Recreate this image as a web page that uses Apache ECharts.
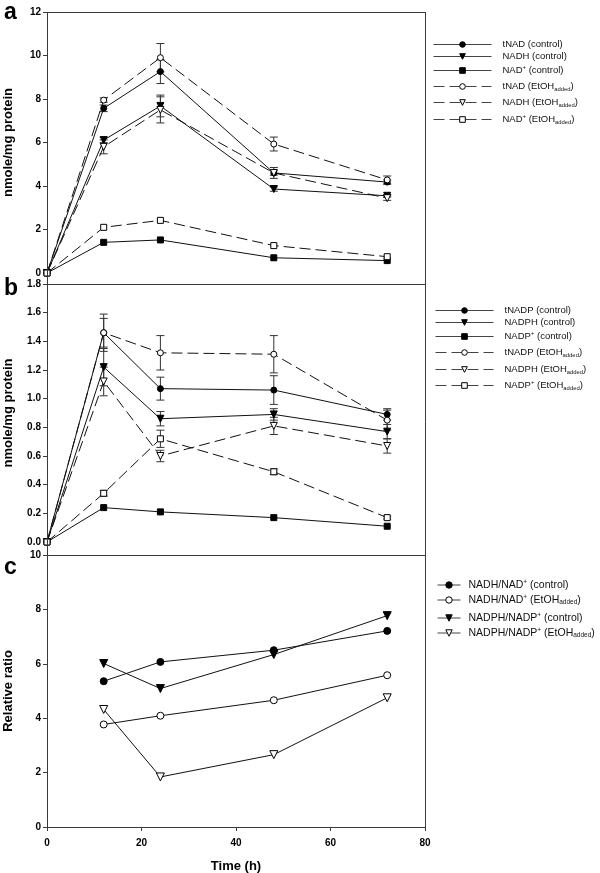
<!DOCTYPE html>
<html>
<head>
<meta charset="utf-8">
<script src="https://cdn.jsdelivr.net/npm/echarts@6/dist/echarts.min.js"></script>
<style>
html,body{margin:0;padding:0;background:#fff;}
#chart{width:600px;height:873px;}
</style>
</head>
<body>
<div id="chart"></div>
<script>
// ---------------- data ----------------
const times = [0, 12, 24, 48, 72];
const ratioTimes = [12, 24, 48, 72];
const xTicks = [0, 20, 40, 60, 80];

// panel a (nmole/mg protein)
const tNAD_ctrl   = [0, 7.57, 9.26, 4.60, 4.18];
const NADH_ctrl   = [0, 6.11, 7.68, 3.86, 3.55];
const NADp_ctrl   = [0, 1.41, 1.52, 0.70, 0.57];
const tNAD_etoh   = [0, 7.95, 9.90, 5.93, 4.28];
const NADH_etoh   = [0, 5.80, 7.50, 4.60, 3.44];
const NADp_etoh   = [0, 2.10, 2.42, 1.26, 0.75];
const tNAD_ctrl_err = [0, 0.15, 0.55, 0.10, 0.10];
const NADH_ctrl_err = [0, 0.12, 0.50, 0.10, 0.06];
const NADp_ctrl_err = [0, 0, 0, 0, 0];
const tNAD_etoh_err = [0, 0.10, 0.65, 0.32, 0.18];
const NADH_etoh_err = [0, 0.32, 0.60, 0.25, 0.10];
const NADp_etoh_err = [0, 0, 0, 0, 0];

// panel b (nmole/mg protein)
const tNADP_ctrl  = [0, 1.46, 1.07, 1.06, 0.89];
const NADPH_ctrl  = [0, 1.22, 0.86, 0.89, 0.77];
const NADPp_ctrl  = [0, 0.24, 0.21, 0.17, 0.11];
const tNADP_etoh  = [0, 1.46, 1.32, 1.31, 0.85];
const NADPH_etoh  = [0, 1.12, 0.60, 0.81, 0.67];
const NADPp_etoh  = [0, 0.34, 0.72, 0.49, 0.17];
const tNADP_ctrl_err = [0, 0.10, 0.08, 0.10, 0.04];
const NADPH_ctrl_err = [0, 0.13, 0.05, 0.04, 0.05];
const NADPp_ctrl_err = [0, 0, 0, 0, 0];
const tNADP_etoh_err = [0, 0.13, 0.12, 0.13, 0.07];
const NADPH_etoh_err = [0, 0.10, 0.04, 0.06, 0.05];
const NADPp_etoh_err = [0, 0.02, 0.06, 0.02, 0.01];

// panel c (relative ratio)
const NADH_NAD_ctrl   = [5.36, 6.07, 6.50, 7.21];
const NADH_NAD_etoh   = [3.77, 4.09, 4.66, 5.58];
const NADPH_NADP_ctrl = [6.01, 5.09, 6.34, 7.77];
const NADPH_NADP_etoh = [4.32, 1.84, 2.66, 4.75];

// names
const namesA = ['tNAD (control)', 'NADH (control)', 'NAD+ (control)', 'tNAD (EtOH added)', 'NADH (EtOH added)', 'NAD+ (EtOH added)'];
const namesB = ['tNADP (control)', 'NADPH (control)', 'NADP+ (control)', 'tNADP (EtOH added)', 'NADPH (EtOH added)', 'NADP+ (EtOH added)'];
const namesC = ['NADH/NAD+ (control)', 'NADH/NAD+ (EtOH added)', 'NADPH/NADP+ (control)', 'NADPH/NADP+ (EtOH added)'];

// ---------------- layout ----------------
const W = 600;
const L = 47, R = 425;
const panels = [
  {top: 12, bottom: 273},
  {top: 284, bottom: 542},
  {top: 555, bottom: 827}
];
const FONT = '"Liberation Sans", Arial, Helvetica, sans-serif';
const AX = '#3a3a3a';

function pairs(xs, ys) { return xs.map((x, i) => [x, ys[i]]); }
function errData(xs, ys, es) {
  const out = [];
  xs.forEach((x, i) => { if (es[i] > 0) out.push([x, ys[i] - es[i], ys[i] + es[i]]); });
  return out;
}
function fmtName(n) {
  return n.replace('+', '{sup|+}').replace('EtOH added', 'EtOH{sub|added}');
}

const DASH = [11, 5];
const styles = [
  {symbol: 'circle', rot: 0, fill: '#000', dash: 'solid', size: 6},
  {symbol: 'triangle', rot: 180, fill: '#000', dash: 'solid', size: 7},
  {symbol: 'rect', rot: 0, fill: '#000', dash: 'solid', size: 6},
  {symbol: 'circle', rot: 0, fill: '#fff', dash: DASH, size: 6},
  {symbol: 'triangle', rot: 180, fill: '#fff', dash: DASH, size: 7},
  {symbol: 'rect', rot: 0, fill: '#fff', dash: DASH, size: 6}
];
const stylesC = [
  {symbol: 'circle', rot: 0, fill: '#000', dash: 'solid', size: 7},
  {symbol: 'circle', rot: 0, fill: '#fff', dash: 'solid', size: 7},
  {symbol: 'triangle', rot: 180, fill: '#000', dash: 'solid', size: 8},
  {symbol: 'triangle', rot: 180, fill: '#fff', dash: 'solid', size: 8}
];

function lineSeries(name, data, st, gi) {
  return {
    type: 'line', name: name, data: data,
    xAxisIndex: gi, yAxisIndex: gi,
    symbol: st.symbol, symbolRotate: st.rot, symbolSize: st.size,
    showSymbol: true, clip: false, z: 3,
    lineStyle: {color: '#111', width: 1, type: st.dash},
    itemStyle: {color: st.fill, borderColor: '#000', borderWidth: 1},
    emphasis: {disabled: true},
    animation: false
  };
}
function renderErr(params, api) {
  const x = api.value(0), lo = api.value(1), hi = api.value(2);
  const p1 = api.coord([x, hi]), p2 = api.coord([x, lo]);
  const w = 4;
  const st = {stroke: '#333', lineWidth: 1};
  return {type: 'group', children: [
    {type: 'line', shape: {x1: p1[0], y1: p1[1], x2: p2[0], y2: p2[1]}, style: st},
    {type: 'line', shape: {x1: p1[0] - w, y1: p1[1], x2: p1[0] + w, y2: p1[1]}, style: st},
    {type: 'line', shape: {x1: p2[0] - w, y1: p2[1], x2: p2[0] + w, y2: p2[1]}, style: st}
  ]};
}
function errSeries(data, gi) {
  return {type: 'custom', data: data, xAxisIndex: gi, yAxisIndex: gi,
    encode: {x: 0, y: [1, 2]}, renderItem: renderErr, z: 2, silent: true, animation: false};
}

const series = [];
const valsA = [tNAD_ctrl, NADH_ctrl, NADp_ctrl, tNAD_etoh, NADH_etoh, NADp_etoh];
const errsA = [tNAD_ctrl_err, NADH_ctrl_err, NADp_ctrl_err, tNAD_etoh_err, NADH_etoh_err, NADp_etoh_err];
const valsB = [tNADP_ctrl, NADPH_ctrl, NADPp_ctrl, tNADP_etoh, NADPH_etoh, NADPp_etoh];
const errsB = [tNADP_ctrl_err, NADPH_ctrl_err, NADPp_ctrl_err, tNADP_etoh_err, NADPH_etoh_err, NADPp_etoh_err];
const valsC = [NADH_NAD_ctrl, NADH_NAD_etoh, NADPH_NADP_ctrl, NADPH_NADP_etoh];

valsA.forEach((v, i) => series.push(errSeries(errData(times, v, errsA[i]), 0)));
valsB.forEach((v, i) => series.push(errSeries(errData(times, v, errsB[i]), 1)));
valsA.forEach((v, i) => series.push(lineSeries(namesA[i], pairs(times, v), styles[i], 0)));
valsB.forEach((v, i) => series.push(lineSeries(namesB[i], pairs(times, v), styles[i], 1)));
valsC.forEach((v, i) => series.push(lineSeries(namesC[i], pairs(ratioTimes, v), stylesC[i], 2)));

// legends: one per item
const legendRowsA = [42, 54, 68, 84, 100, 117];
const legendRowsB = [308, 320, 334, 350, 367, 383];
const legendRowsC = [583, 598, 616, 631];
function legendItem(name, left, rowY, itemW, itemH, fs, padL) {
  return {
    data: [name], left: left, top: rowY - itemH / 2, padding: 0,
    orient: 'horizontal', itemWidth: itemW, itemHeight: itemH,
    selectedMode: false,
    lineStyle: {width: 1, color: '#444'},
    itemStyle: {borderWidth: 1, borderColor: '#000'},
    formatter: fmtName,
    textStyle: {fontFamily: FONT, fontSize: fs, color: '#111', lineHeight: 12, padding: [0, 0, 0, padL],
      rich: {
        sup: {fontFamily: FONT, fontSize: fs * 0.62, lineHeight: 6, verticalAlign: 'top', color: '#111'},
        sub: {fontFamily: FONT, fontSize: fs * 0.62, lineHeight: 6, verticalAlign: 'bottom', color: '#111'}
      }}
  };
}
const legends = [];
namesA.forEach((n, i) => legends.push(legendItem(n, 433, legendRowsA[i], 58, 7, 9.5, 6)));
namesB.forEach((n, i) => legends.push(legendItem(n, 435, legendRowsB[i], 58, 7, 9.5, 6)));
namesC.forEach((n, i) => legends.push(legendItem(n, 437, legendRowsC[i], 23, 8, 10.5, 3)));

// grids and axes
const grids = panels.map(p => ({left: L, right: W - R, top: p.top, height: p.bottom - p.top,
  containLabel: false, outerBoundsMode: 'none'}));
const yRanges = [
  {min: 0, max: 12, interval: 2, name: 'nmole/mg protein', dec: 0},
  {min: 0, max: 1.8, interval: 0.2, name: 'nmole/mg protein', dec: 1},
  {min: 0, max: 10, interval: 2, name: 'Relative ratio', dec: 0}
];
const yAxes = yRanges.map((r, i) => ({
  type: 'value', gridIndex: i, min: r.min, max: r.max, interval: r.interval,
  name: r.name, nameLocation: 'middle', nameGap: 32,
  nameTextStyle: {fontFamily: FONT, fontSize: 13, fontWeight: 'bold', color: '#000'},
  axisLine: {show: false},
  axisTick: {show: true, length: 4, lineStyle: {color: AX}},
  splitLine: {show: false},
  axisLabel: {fontFamily: FONT, fontSize: 10, fontWeight: 'bold', color: '#000', margin: 6,
    formatter: v => Number(v).toFixed(r.dec)}
}));
const xAxes = [0, 1, 2].map(i => ({
  type: 'value', gridIndex: i, min: 0, max: 80, interval: 20,
  show: i === 2,
  name: i === 2 ? 'Time (h)' : '', nameLocation: 'middle', nameGap: 33,
  nameTextStyle: {fontFamily: FONT, fontSize: 13, fontWeight: 'bold', color: '#000'},
  axisLine: {show: true, onZero: false, lineStyle: {color: AX}},
  axisTick: {show: true, length: 4, lineStyle: {color: AX}},
  splitLine: {show: false},
  axisLabel: {fontFamily: FONT, fontSize: 10, fontWeight: 'bold', color: '#000', margin: 11,
    formatter: v => (xTicks.indexOf(v) >= 0 ? String(v) : '')}
}));

// frame lines (built from layout constants)
const ln = (x1, y1, x2, y2) => ({type: 'line', silent: true, z: 10,
  shape: {x1: x1, y1: y1, x2: x2, y2: y2}, style: {stroke: AX, lineWidth: 1}});
const frame = [
  ln(L + 0.5, panels[0].top, L + 0.5, panels[2].bottom + 0.5),
  ln(R + 0.5, panels[0].top, R + 0.5, panels[2].bottom + 4)
];
panels.forEach(p => frame.push(ln(L, p.top + 0.5, R + 1, p.top + 0.5)));
const letters = [['a', 14], ['b', 290], ['c', 569]].map(([t, y]) => ({
  type: 'text', left: 4, top: y - 13, silent: true,
  style: {text: t, font: 'bold 23px ' + FONT, fill: '#000'}
}));

const chart = echarts.init(document.getElementById('chart'), null, {renderer: 'canvas'});
chart.setOption({
  animation: false,
  backgroundColor: '#fff',
  grid: grids,
  xAxis: xAxes,
  yAxis: yAxes,
  legend: legends,
  series: series,
  graphic: frame.concat(letters)
});
</script>
</body>
</html>
